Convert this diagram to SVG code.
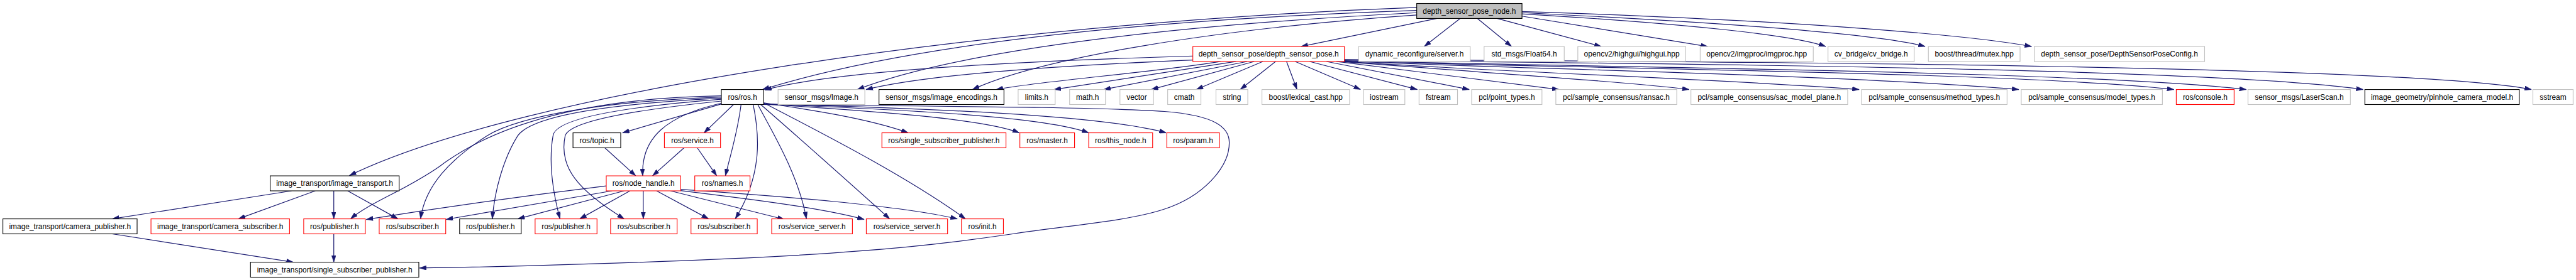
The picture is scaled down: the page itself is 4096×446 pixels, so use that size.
<svg xmlns="http://www.w3.org/2000/svg" width="4096" height="446" viewBox="0 0 4096 446">
<defs>
<marker id="ah" markerWidth="12" markerHeight="8" refX="12" refY="4" orient="auto" markerUnits="userSpaceOnUse">
<path d="M0,0 L12,4 L0,8 z" fill="#191970" stroke="#191970" stroke-width="0.5"/>
</marker>
<style>
.n rect{fill:#fff;stroke-width:1.2}
.red rect{stroke:#ff0000}
.gray rect{stroke:#bfbfbf}
.blk rect{stroke:#000}
.top rect{fill:#bfbfbf;stroke:#000}
.n text{font-family:"Liberation Sans",Arial,Helvetica,sans-serif;font-size:13px;text-anchor:middle;fill:#000}
#edges path{fill:none;stroke:#191970;stroke-width:1.3;marker-end:url(#ah)}
</style>
</defs>
<rect width="4096" height="446" fill="#fff"/>
<g transform="scale(0.91983)">
<g id="edges">
<path d="M2449,13 C1700,40 900,160 604,304"/>
<path d="M2449,18 C1950,35 1560,80 1318,155"/>
<path d="M2449,22 C2000,45 1650,90 1482,155"/>
<path d="M2449,26 C2100,50 1800,100 1681,155"/>
<path d="M2484,32 L2249,80.5"/>
<path d="M2524,32 L2462,80.5"/>
<path d="M2554,32 L2613,80.5"/>
<path d="M2588,32 L2768,80.5"/>
<path d="M2631,28 L2952,80.5"/>
<path d="M2631,24 C2900,40 3100,60 3156,80.5"/>
<path d="M2631,22 C3000,40 3250,60 3328,80.5"/>
<path d="M2631,20 C3100,35 3400,60 3512,80.5"/>
<path d="M2062,97 C1800,105 1450,120 1322,156"/>
<path d="M2062,104 C1800,115 1600,130 1497,155"/>
<path d="M2110,106.5 C2000,125 1800,140 1722,155"/>
<path d="M2137,106.5 L1822,155"/>
<path d="M2156,106.5 L1908,155"/>
<path d="M2168,106.5 L1990,155"/>
<path d="M2183,106.5 L2068,155"/>
<path d="M2205,106.5 L2144,155"/>
<path d="M2224,106.5 L2242,155"/>
<path d="M2239,106.5 L2352,155"/>
<path d="M2264,106.5 L2450,155"/>
<path d="M2293,106.5 L2540,155"/>
<path d="M2310,106.5 L2695,155"/>
<path d="M2318,106.5 C2550,125 2820,142 2920,155"/>
<path d="M2322,106.5 C2600,125 3000,138 3214,155"/>
<path d="M2324,106 C2650,120 3200,130 3490,155"/>
<path d="M2324,106 C2700,118 3500,125 3758,155"/>
<path d="M2324,105 C2700,116 3600,122 3883,155"/>
<path d="M2324,104 C2750,110 3800,115 4085,155"/>
<path d="M2324,103 C2800,106 4150,110 4376,155"/>
<path d="M1247,180 L1076,230"/>
<path d="M1268,181 L1217,230"/>
<path d="M1250,178 C1150,200 1108,240 1111,304.5"/>
<path d="M1281,181 C1275,230 1262,270 1254,304.5"/>
<path d="M1320,178 C1400,190 1500,205 1570,230"/>
<path d="M1320,180 C1500,192 1700,205 1762,230"/>
<path d="M1320,180 C1550,190 1800,200 1882,230"/>
<path d="M1320,180 C1600,188 1900,198 2016,230"/>
<path d="M1320,181 C1600,184 1900,185 2013,193 C2100,200 2125,220 2125,247 C2125,290 2080,340 2013,362 C1950,383 1850,390 1751,405 C1650,420 1550,430 1480,435 C1300,450 900,462 725,464"/>
<path d="M1247,166 C1000,170 850,220 760,288 C700,330 640,350 606,379"/>
<path d="M1247,168 C1050,175 900,200 842,235 C780,275 735,320 727,379"/>
<path d="M1247,170 C1050,180 920,200 895,235 C870,275 855,330 851,379"/>
<path d="M1247,172 C1080,185 960,205 956,235 C948,280 955,330 968,379"/>
<path d="M1247,175 C1100,190 985,210 977,235 C965,290 1000,330 1079,379"/>
<path d="M1302,181 C1312,230 1320,300 1271,379"/>
<path d="M1310,181 C1330,220 1380,300 1394,379"/>
<path d="M1315,181 C1360,220 1450,300 1538,379"/>
<path d="M1320,178 C1400,220 1560,300 1669,379"/>
<path d="M1048,322 C900,340 760,360 633,380"/>
<path d="M1058,330.5 L771,380"/>
<path d="M1079,330.5 L895,379"/>
<path d="M1089,330.5 L1002,379"/>
<path d="M1112,330.5 L1112,379"/>
<path d="M1135,330.5 L1225,379"/>
<path d="M1159,330.5 L1356,380"/>
<path d="M1176.5,330 C1300,345 1420,360 1494,380"/>
<path d="M1176.5,328 C1350,340 1550,355 1655,379"/>
<path d="M1045,255.5 L1099,304.5"/>
<path d="M1183,255.5 L1128,304.5"/>
<path d="M1205,255.5 L1239,304.5"/>
<path d="M504,330.5 L194,379"/>
<path d="M545,330.5 L412,379"/>
<path d="M577,330.5 L577,379"/>
<path d="M601,330.5 L688,379"/>
<path d="M194,405 L507,454"/>
<path d="M577,405 L577,454"/>
</g>
<g id="n_top" class="n top"><rect x="2449" y="6" width="182" height="26"/><text x="2540" y="23.5">depth_sensor_pose_node.h</text></g>
<g id="n_dsp" class="n red"><rect x="2062" y="80.5" width="262" height="26"/><text x="2193" y="98">depth_sensor_pose/depth_sensor_pose.h</text></g>
<g id="n_dyn" class="n gray"><rect x="2348.5" y="80.5" width="193" height="26"/><text x="2445" y="98">dynamic_reconfigure/server.h</text></g>
<g id="n_f64" class="n gray"><rect x="2565.5" y="80.5" width="138.5" height="26"/><text x="2634.75" y="98">std_msgs/Float64.h</text></g>
<g id="n_hg" class="n gray"><rect x="2727.5" y="80.5" width="186.5" height="26"/><text x="2820.75" y="98">opencv2/highgui/highgui.hpp</text></g>
<g id="n_ip" class="n gray"><rect x="2939" y="80.5" width="195.5" height="26"/><text x="3036.75" y="98">opencv2/imgproc/imgproc.hpp</text></g>
<g id="n_cvb" class="n gray"><rect x="3160" y="80.5" width="149" height="26"/><text x="3234.5" y="98">cv_bridge/cv_bridge.h</text></g>
<g id="n_mtx" class="n gray"><rect x="3333.5" y="80.5" width="158.5" height="26"/><text x="3412.75" y="98">boost/thread/mutex.hpp</text></g>
<g id="n_cfg" class="n gray"><rect x="3516.5" y="80.5" width="294.5" height="26"/><text x="3663.75" y="98">depth_sensor_pose/DepthSensorPoseConfig.h</text></g>
<g id="n_ros" class="n blk"><rect x="1247" y="155" width="73" height="26"/><text x="1283.5" y="172.5">ros/ros.h</text></g>
<g id="n_img" class="n gray"><rect x="1345" y="155" width="150" height="26"/><text x="1420" y="172.5">sensor_msgs/Image.h</text></g>
<g id="n_enc" class="n blk"><rect x="1519.5" y="155" width="216" height="26"/><text x="1627.5" y="172.5">sensor_msgs/image_encodings.h</text></g>
<g id="n_lim" class="n gray"><rect x="1760" y="155" width="64" height="26"/><text x="1792" y="172.5">limits.h</text></g>
<g id="n_math" class="n gray"><rect x="1849" y="155" width="62" height="26"/><text x="1880" y="172.5">math.h</text></g>
<g id="n_vec" class="n gray"><rect x="1936" y="155" width="58" height="26"/><text x="1965" y="172.5">vector</text></g>
<g id="n_cmath" class="n gray"><rect x="2018.5" y="155" width="57.5" height="26"/><text x="2047.25" y="172.5">cmath</text></g>
<g id="n_str" class="n gray"><rect x="2102" y="155" width="55" height="26"/><text x="2129.5" y="172.5">string</text></g>
<g id="n_lex" class="n gray"><rect x="2181.5" y="155" width="151.5" height="26"/><text x="2257.25" y="172.5">boost/lexical_cast.hpp</text></g>
<g id="n_ios" class="n gray"><rect x="2357" y="155" width="71.5" height="26"/><text x="2392.75" y="172.5">iostream</text></g>
<g id="n_fs" class="n gray"><rect x="2453" y="155" width="66.5" height="26"/><text x="2486.25" y="172.5">fstream</text></g>
<g id="n_pt" class="n gray"><rect x="2544" y="155" width="121.5" height="26"/><text x="2604.75" y="172.5">pcl/point_types.h</text></g>
<g id="n_ran" class="n gray"><rect x="2689.5" y="155" width="209" height="26"/><text x="2794" y="172.5">pcl/sample_consensus/ransac.h</text></g>
<g id="n_sac" class="n gray"><rect x="2923" y="155" width="271" height="26"/><text x="3058.5" y="172.5">pcl/sample_consensus/sac_model_plane.h</text></g>
<g id="n_mt" class="n gray"><rect x="3218" y="155" width="251.5" height="26"/><text x="3343.75" y="172.5">pcl/sample_consensus/method_types.h</text></g>
<g id="n_mot" class="n gray"><rect x="3494" y="155" width="244" height="26"/><text x="3616" y="172.5">pcl/sample_consensus/model_types.h</text></g>
<g id="n_con" class="n red"><rect x="3762" y="155" width="100" height="26"/><text x="3812" y="172.5">ros/console.h</text></g>
<g id="n_ls" class="n gray"><rect x="3886" y="155" width="177" height="26"/><text x="3974.5" y="172.5">sensor_msgs/LaserScan.h</text></g>
<g id="n_pin" class="n blk"><rect x="4088" y="155" width="267" height="26"/><text x="4221.5" y="172.5">image_geometry/pinhole_camera_model.h</text></g>
<g id="n_ss" class="n gray"><rect x="4378.5" y="155" width="69.5" height="26"/><text x="4413.25" y="172.5">sstream</text></g>
<g id="n_topic" class="n blk"><rect x="990.5" y="230" width="82.5" height="26"/><text x="1031.75" y="247.5">ros/topic.h</text></g>
<g id="n_svc" class="n red"><rect x="1148.5" y="230" width="97" height="26"/><text x="1197" y="247.5">ros/service.h</text></g>
<g id="n_ssp" class="n red"><rect x="1524.5" y="230" width="214.5" height="26"/><text x="1631.75" y="247.5">ros/single_subscriber_publisher.h</text></g>
<g id="n_master" class="n red"><rect x="1763" y="230" width="94.5" height="26"/><text x="1810.25" y="247.5">ros/master.h</text></g>
<g id="n_thisn" class="n red"><rect x="1882" y="230" width="110.5" height="26"/><text x="1937.25" y="247.5">ros/this_node.h</text></g>
<g id="n_param" class="n red"><rect x="2017" y="230" width="91" height="26"/><text x="2062.5" y="247.5">ros/param.h</text></g>
<g id="n_it" class="n blk"><rect x="467" y="304.5" width="223" height="26"/><text x="578.5" y="322">image_transport/image_transport.h</text></g>
<g id="n_nh" class="n red"><rect x="1048" y="304.5" width="128.5" height="26"/><text x="1112.25" y="322">ros/node_handle.h</text></g>
<g id="n_names" class="n red"><rect x="1201" y="304.5" width="95.5" height="26"/><text x="1248.75" y="322">ros/names.h</text></g>
<g id="n_campub" class="n blk"><rect x="5" y="379" width="232" height="26"/><text x="121" y="396.5">image_transport/camera_publisher.h</text></g>
<g id="n_camsub" class="n red"><rect x="261" y="379" width="239.5" height="26"/><text x="380.75" y="396.5">image_transport/camera_subscriber.h</text></g>
<g id="n_pub1" class="n red"><rect x="525" y="379" width="106.5" height="26"/><text x="578.25" y="396.5">ros/publisher.h</text></g>
<g id="n_sub1" class="n red"><rect x="655.5" y="379" width="115" height="26"/><text x="713" y="396.5">ros/subscriber.h</text></g>
<g id="n_pub2" class="n blk"><rect x="794.5" y="379" width="106.5" height="26"/><text x="847.75" y="396.5">ros/publisher.h</text></g>
<g id="n_pub3" class="n red"><rect x="925" y="379" width="107" height="26"/><text x="978.5" y="396.5">ros/publisher.h</text></g>
<g id="n_sub2" class="n red"><rect x="1055.5" y="379" width="115" height="26"/><text x="1113" y="396.5">ros/subscriber.h</text></g>
<g id="n_sub3" class="n red"><rect x="1194.5" y="379" width="114.5" height="26"/><text x="1251.75" y="396.5">ros/subscriber.h</text></g>
<g id="n_srv1" class="n red"><rect x="1334" y="379" width="139.5" height="26"/><text x="1403.75" y="396.5">ros/service_server.h</text></g>
<g id="n_srv2" class="n red"><rect x="1497.5" y="379" width="140.5" height="26"/><text x="1567.75" y="396.5">ros/service_server.h</text></g>
<g id="n_init" class="n red"><rect x="1662" y="379" width="72.5" height="26"/><text x="1698.25" y="396.5">ros/init.h</text></g>
<g id="n_itssp" class="n blk"><rect x="433" y="454" width="291" height="26"/><text x="578.5" y="471.5">image_transport/single_subscriber_publisher.h</text></g>
</g>
</svg>
